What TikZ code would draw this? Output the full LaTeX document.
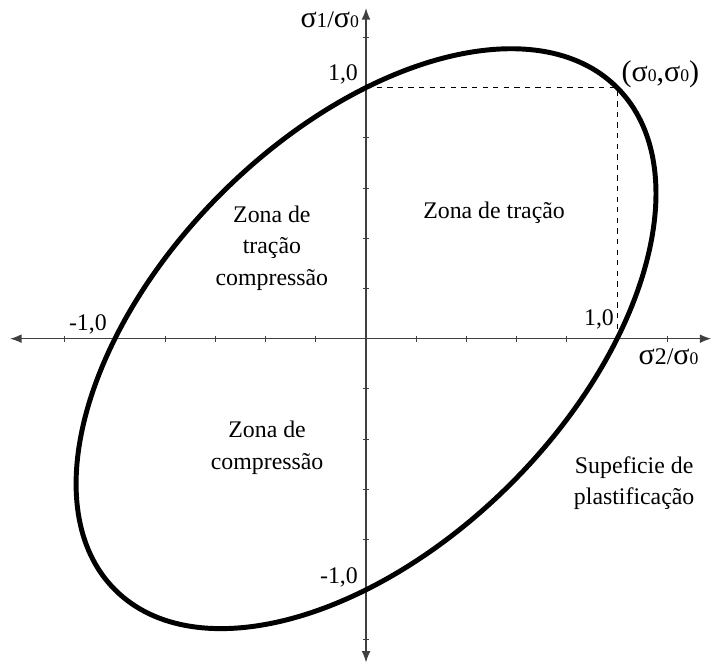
\documentclass[tikz,border=0pt]{standalone}
\usepackage{fontspec}
\setmainfont{Liberation Serif}
\usetikzlibrary{arrows.meta}

\tikzset{
    eixo/.style={draw=black!75, line width=0.8pt,
        {Latex[length=6.5pt,width=5pt]}-{Latex[length=6.5pt,width=5pt]}},
    marca/.style={draw=black!75, line width=0.6pt},
    curva/.style={line width=2.8pt},
    guia/.style={dashed, line width=0.5pt},
    rotulo/.style={font=\fontsize{13.5}{18}\selectfont, inner sep=1pt},
    zona/.style={rotulo, align=center}
}
\newcommand{\sig}[2]{{\fontsize{17}{18}\selectfont σ}{\fontsize{#2}{12}\selectfont #1}}

\begin{document}
\begin{tikzpicture}[x=5cm,y=5cm]

\useasboundingbox (-1.458,-1.310) rectangle (1.382,1.349);

% Eixos
\coordinate (esq) at (-1.418,0);
\coordinate (dir) at (1.375,0);
\coordinate (cima) at (0,1.317);
\coordinate (baixo) at (0,-1.29);
\draw[eixo] (esq) -- (dir);
\draw[eixo] (baixo) -- (cima);

\foreach \t in {-1.2,-1.0,-0.8,-0.6,-0.4,-0.2,0.2,0.4,0.6,0.8,1.0,1.2}
{
    \draw[marca] (\t,-0.012) -- (\t,0.012);
    \draw[marca] (-0.012,\t) -- (0.012,\t);
}

% Ponto (1,1)
\coordinate (o) at (0,0);
\coordinate (um1) at (0,1);
\coordinate (um2) at (1,0);
\coordinate (p) at (1,1);
\draw[guia] (um1) -- (p) -- (um2);

% Superficie
\draw[curva, rotate=45] (o) ellipse ({sqrt(2)} and {sqrt(2/3)});

% Rotulos
\node[rotulo, anchor=east] (s1) at (-0.02,1.272) {\sig{1}{12}/\sig{0}{10}};
\node[rotulo, anchor=east] (y1) at (-0.024,1.052) {1,0};
\node[rotulo, anchor=west, font=\fontsize{17}{18}\selectfont] (pt) at (1.01,1.052)
{(\sig{0}{10},\sig{0}{10})};
\node[rotulo] (xm1) at (-1.108,0.056) {-1,0};
\node[rotulo] (x1) at (0.928,0.075) {1,0};
\node[rotulo] (s2) at (1.205,-0.071) {\sig{2}{13.5}/\sig{0}{10}};
\node[rotulo] (ym1) at (-0.108,-0.952) {-1,0};

\node[zona] (tr) at (0.51,0.5) {Zona de tração};
\node[zona] (tc) at (-0.375,0.361) {Zona de\\tração\\compressão};
\node[zona] (co) at (-0.394,-0.433) {Zona de\\compressão};
\node[zona] (pl) at (1.068,-0.575) {Supeficie de\\plastificação};

\end{tikzpicture}
\end{document}
